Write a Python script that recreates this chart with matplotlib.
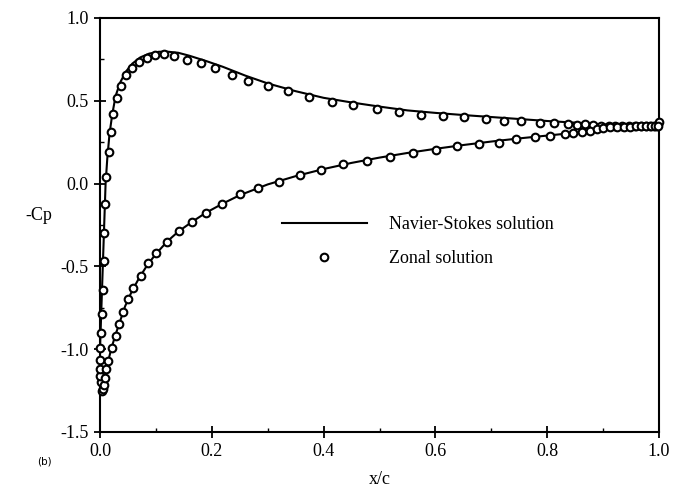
import numpy as np
import matplotlib
matplotlib.use('Agg')
import matplotlib.pyplot as plt
from matplotlib.ticker import MultipleLocator

plt.rcParams['font.family'] = ['Liberation Serif', 'DejaVu Serif']

# Navier-Stokes solution (line), upper surface from stagnation point to trailing edge
ns_upper_x = [0.003, 0.000, 0.000, 0.002, 0.004, 0.006, 0.008, 0.010, 0.013, 0.017,
              0.022, 0.028, 0.036, 0.046, 0.058, 0.072, 0.088, 0.105, 0.120, 0.140,
              0.160, 0.190, 0.220, 0.260, 0.300, 0.350, 0.400, 0.450, 0.500, 0.550,
              0.600, 0.650, 0.700, 0.750, 0.800, 0.850, 0.900, 0.950, 1.000]
ns_upper_cp = [-1.26, -1.15, -1.00, -0.80, -0.60, -0.40, -0.20, 0.00, 0.15, 0.30,
               0.42, 0.53, 0.61, 0.675, 0.725, 0.762, 0.785, 0.796, 0.797, 0.790,
               0.772, 0.740, 0.705, 0.652, 0.605, 0.558, 0.518, 0.490, 0.465, 0.442,
               0.427, 0.414, 0.402, 0.390, 0.378, 0.368, 0.358, 0.350, 0.348]
# lower surface from stagnation point to trailing edge
ns_lower_x = [0.003, 0.007, 0.010, 0.014, 0.020, 0.027, 0.035, 0.045, 0.057, 0.070,
              0.085, 0.100, 0.120, 0.140, 0.165, 0.190, 0.220, 0.250, 0.300, 0.350,
              0.400, 0.450, 0.500, 0.550, 0.600, 0.650, 0.700, 0.750, 0.800, 0.850,
              0.900, 0.950, 1.000]
ns_lower_cp = [-1.26, -1.22, -1.15, -1.08, -1.00, -0.92, -0.84, -0.74, -0.65, -0.57,
               -0.49, -0.425, -0.35, -0.29, -0.23, -0.175, -0.12, -0.07, -0.005, 0.045,
               0.088, 0.125, 0.157, 0.185, 0.210, 0.233, 0.254, 0.273, 0.290, 0.307,
               0.325, 0.338, 0.348]

# Zonal solution (circles)
zonal_upper_x = [0.004, 0.001, 0.000, 0.000, 0.000, 0.0005, 0.002, 0.003, 0.005, 0.007,
                 0.007, 0.0095, 0.011, 0.016, 0.019, 0.024, 0.031, 0.037, 0.0465, 0.057,
                 0.070, 0.0835, 0.098, 0.1145, 0.132, 0.155, 0.181, 0.206, 0.236, 0.265,
                 0.301, 0.336, 0.373, 0.415, 0.453, 0.495, 0.535, 0.575, 0.614, 0.652,
                 0.690, 0.723, 0.754, 0.787, 0.812, 0.838, 0.853, 0.868, 0.882, 0.896,
                 0.910, 0.922, 0.934, 0.946, 0.957, 0.967, 0.976, 0.984, 0.991, 0.997, 1.000]
zonal_upper_cp = [-1.255, -1.20, -1.16, -1.12, -1.065, -0.99, -0.905, -0.785, -0.643, -0.467,
                  -0.296, -0.123, 0.042, 0.193, 0.313, 0.418, 0.515, 0.589, 0.654, 0.696,
                  0.736, 0.760, 0.779, 0.781, 0.771, 0.746, 0.726, 0.700, 0.656, 0.622,
                  0.589, 0.559, 0.525, 0.494, 0.473, 0.451, 0.431, 0.416, 0.406, 0.400,
                  0.388, 0.378, 0.376, 0.366, 0.365, 0.360, 0.356, 0.357, 0.355, 0.350,
                  0.350, 0.349, 0.348, 0.347, 0.347, 0.347, 0.347, 0.347, 0.348, 0.350, 0.373]
zonal_lower_x = [0.006, 0.0077, 0.009, 0.0107, 0.015, 0.021, 0.028, 0.0345, 0.0406, 0.0507,
                 0.0596, 0.0733, 0.0865, 0.101, 0.119, 0.142, 0.164, 0.190, 0.219, 0.250,
                 0.283, 0.320, 0.358, 0.395, 0.435, 0.478, 0.519, 0.560, 0.601, 0.639,
                 0.678, 0.714, 0.745, 0.778, 0.805, 0.832, 0.847, 0.862, 0.877, 0.889,
                 0.900, 0.912, 0.925, 0.937, 0.948, 0.958, 0.968, 0.977, 0.985, 0.992, 0.998]
zonal_lower_cp = [-1.24, -1.216, -1.172, -1.121, -1.069, -0.995, -0.920, -0.847, -0.773, -0.697,
                  -0.632, -0.556, -0.478, -0.417, -0.351, -0.288, -0.232, -0.180, -0.123, -0.063,
                  -0.025, 0.010, 0.050, 0.082, 0.118, 0.138, 0.162, 0.183, 0.203, 0.227,
                  0.241, 0.247, 0.270, 0.280, 0.285, 0.298, 0.304, 0.312, 0.318, 0.328,
                  0.334, 0.340, 0.342, 0.343, 0.344, 0.345, 0.345, 0.346, 0.346, 0.346, 0.347]

fig = plt.figure(figsize=(6.74, 4.91), dpi=100)
ax = fig.add_axes([100/674, 1-432/491, 559/674, 414/491])

ns_line, = ax.plot(ns_upper_x, ns_upper_cp, color='black', lw=1.5, zorder=2)
ax.plot(ns_lower_x, ns_lower_cp, color='black', lw=1.5, zorder=2)
mk = dict(ls='none', marker='o', ms=5.5, mfc='white', mec='black', mew=1.5, zorder=3, clip_on=False)
zonal_pts, = ax.plot(zonal_upper_x, zonal_upper_cp, **mk)
ax.plot(zonal_lower_x, zonal_lower_cp, **mk)

ax.set_xlim(0, 1.0)
ax.set_ylim(-1.5, 1.0)
ax.xaxis.set_major_locator(MultipleLocator(0.2))
ax.xaxis.set_minor_locator(MultipleLocator(0.1))
ax.yaxis.set_major_locator(MultipleLocator(0.5))
ax.yaxis.set_minor_locator(MultipleLocator(0.25))
ax.xaxis.set_major_formatter(plt.FormatStrFormatter('%.1f'))
ax.yaxis.set_major_formatter(plt.FormatStrFormatter('%.1f'))
ax.tick_params(which='major', direction='inout', length=8, width=1.3, labelsize=13, pad=4)
ax.tick_params(which='minor', direction='in', length=3, width=1.0)
for s in ax.spines.values():
    s.set_linewidth(1.5)

fig.text(25/674, 1-215/491, '-Cp', fontsize=13, va='center', ha='left')
fig.text(380/674, 1-479/491, 'x/c', fontsize=13, va='center', ha='center')
fig.text(44/674, 1-462/491, '(b)', fontsize=7.5, va='center', ha='center', family='DejaVu Sans')

ax.legend([ns_line, zonal_pts], ['Navier-Stokes solution', 'Zonal solution'],
          loc='center left', bbox_to_anchor=(0.3256, 0.46), frameon=False,
          fontsize=13, handlelength=4.7, handletextpad=1.2, labelspacing=0.95,
          borderaxespad=0, borderpad=0, numpoints=1)

fig.savefig('out.png', dpi=100)
